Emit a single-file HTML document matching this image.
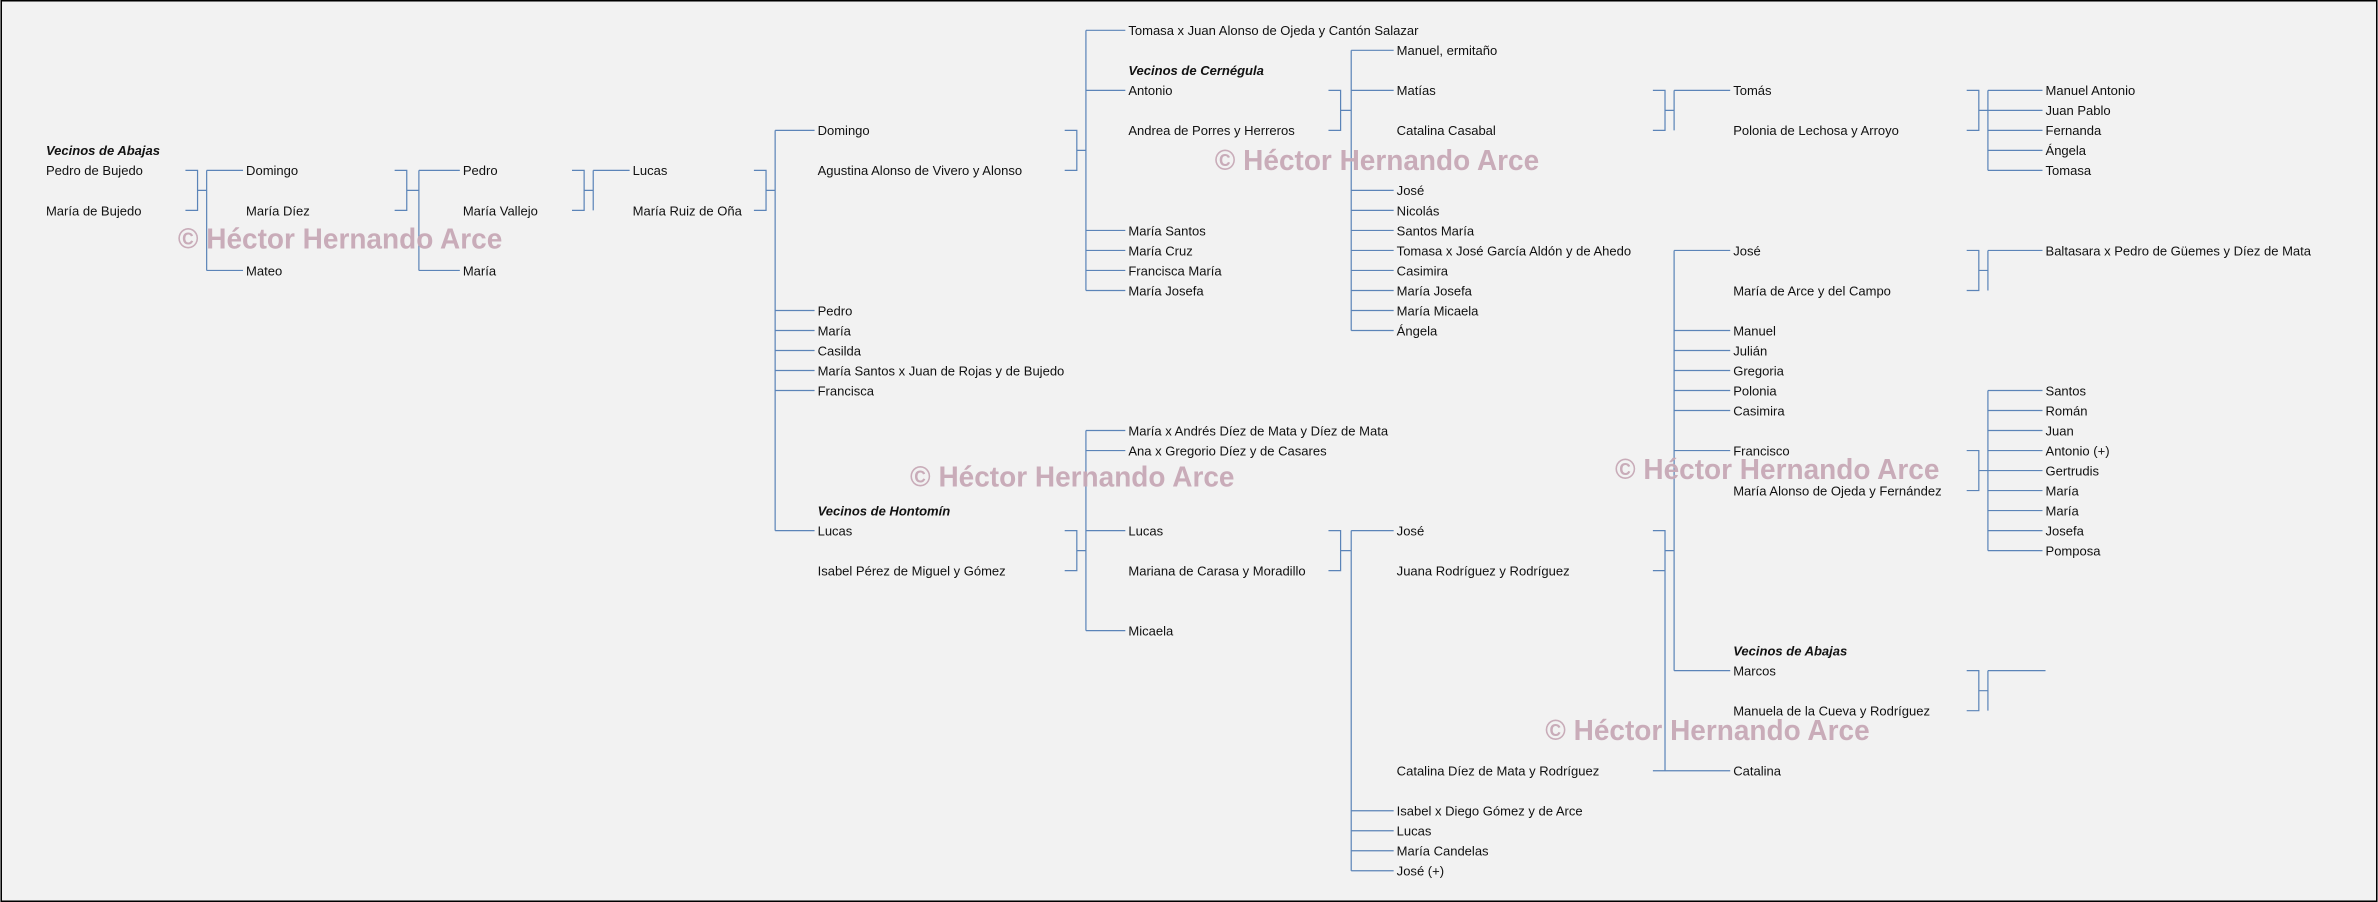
<!DOCTYPE html>
<html><head><meta charset="utf-8"><style>
html,body{margin:0;padding:0;background:#f2f2f2;}
svg{display:block;}
text{font-family:"Liberation Sans",sans-serif;font-size:8.6px;fill:#111;}
.h{font-weight:bold;font-style:italic;}
.w{font-weight:bold;font-size:19px;fill:#c7a9b6;opacity:0.95;}
</style></head><body>
<svg width="2378" height="902" viewBox="0 0 1568 595" xmlns="http://www.w3.org/2000/svg">
<rect x="0.5" y="0.5" width="1567" height="594" fill="#f2f2f2" stroke="#000" stroke-width="1"/>
<path fill="none" stroke="#5b84b8" stroke-width="0.8" d="
M122 112.4H130V138.8H122M130 125.6H136M136 112.4V178.4M136 112.4H160M136 178.4H160
M260 112.4H268V138.8H260M268 125.6H276M276 112.4V178.4M276 112.4H303M276 178.4H303
M377 112.4H385V138.8H377M385 125.6H391M391 112.4V138.8M391 112.4H415
M497 112.4H505V138.8H497M505 125.6H511M511 86V350M511 86H537M511 204.8H537M511 218H537M511 231.2H537M511 244.4H537M511 257.6H537M511 350H537
M702 86H710V112.4H702M710 99.2H716M716 20V191.6M716 20H742M716 59.6H742M716 152H742M716 165.2H742M716 178.4H742M716 191.6H742
M876 59.6H884V86H876M884 72.8H891M891 33.2V218M891 33.2H919M891 59.6H919M891 125.6H919M891 138.8H919M891 152H919M891 165.2H919M891 178.4H919M891 191.6H919M891 204.8H919M891 218H919
M1090 59.6H1098V86H1090M1098 72.8H1104M1104 59.6V86M1104 59.6H1141
M1297 59.6H1305V86H1297M1305 72.8H1311M1311 59.6V112.4M1311 59.6H1347M1311 72.8H1347M1311 86H1347M1311 99.2H1347M1311 112.4H1347
M1297 165.2H1305V191.6H1297M1305 178.4H1311M1311 165.2V191.6M1311 165.2H1347
M1297 297.2H1305V323.6H1297M1305 310.4H1311M1311 257.6V363.2M1311 257.6H1347M1311 270.8H1347M1311 284H1347M1311 297.2H1347M1311 310.4H1347M1311 323.6H1347M1311 336.8H1347M1311 350H1347M1311 363.2H1347
M1297 442.4H1305V468.8H1297M1305 455.6H1311M1311 442.4V468.8M1311 442.4H1349
M702 350H710V376.4H702M710 363.2H716M716 284V416M716 284H742M716 297.2H742M716 350H742M716 416H742
M876 350H884V376.4H876M884 363.2H891M891 350V574.4M891 350H919M891 534.8H919M891 548H919M891 561.2H919M891 574.4H919
M1090 350H1098V376.4H1090M1098 350V508.4M1090 508.4H1141M1098 363.2H1104M1104 165.2V442.4M1104 165.2H1141M1104 218H1141M1104 231.2H1141M1104 244.4H1141M1104 257.6H1141M1104 270.8H1141M1104 297.2H1141M1104 442.4H1141
"/>
<g>
<text class="h" x="30" y="102.4">Vecinos de Abajas</text>
<text x="30" y="115.6">Pedro de Bujedo</text>
<text x="30" y="142">María de Bujedo</text>
<text x="162" y="115.6">Domingo</text>
<text x="162" y="142">María Díez</text>
<text x="162" y="181.6">Mateo</text>
<text x="305" y="115.6">Pedro</text>
<text x="305" y="142">María Vallejo</text>
<text x="305" y="181.6">María</text>
<text x="417" y="115.6">Lucas</text>
<text x="417" y="142">María Ruiz de Oña</text>
<text x="539" y="89.2">Domingo</text>
<text x="539" y="115.6">Agustina Alonso de Vivero y Alonso</text>
<text x="539" y="208">Pedro</text>
<text x="539" y="221.2">María</text>
<text x="539" y="234.4">Casilda</text>
<text x="539" y="247.6">María Santos x Juan de Rojas y de Bujedo</text>
<text x="539" y="260.8">Francisca</text>
<text class="h" x="539" y="340">Vecinos de Hontomín</text>
<text x="539" y="353.2">Lucas</text>
<text x="539" y="379.6">Isabel Pérez de Miguel y Gómez</text>
<text x="744" y="23.2">Tomasa x Juan Alonso de Ojeda y Cantón Salazar</text>
<text class="h" x="744" y="49.6">Vecinos de Cernégula</text>
<text x="744" y="62.8">Antonio</text>
<text x="744" y="89.2">Andrea de Porres y Herreros</text>
<text x="744" y="155.2">María Santos</text>
<text x="744" y="168.4">María Cruz</text>
<text x="744" y="181.6">Francisca María</text>
<text x="744" y="194.8">María Josefa</text>
<text x="744" y="287.2">María x Andrés Díez de Mata y Díez de Mata</text>
<text x="744" y="300.4">Ana x Gregorio Díez y de Casares</text>
<text x="744" y="353.2">Lucas</text>
<text x="744" y="379.6">Mariana de Carasa y Moradillo</text>
<text x="744" y="419.2">Micaela</text>
<text x="921" y="36.4">Manuel, ermitaño</text>
<text x="921" y="62.8">Matías</text>
<text x="921" y="89.2">Catalina Casabal</text>
<text x="921" y="128.8">José</text>
<text x="921" y="142">Nicolás</text>
<text x="921" y="155.2">Santos María</text>
<text x="921" y="168.4">Tomasa x José García Aldón y de Ahedo</text>
<text x="921" y="181.6">Casimira</text>
<text x="921" y="194.8">María Josefa</text>
<text x="921" y="208">María Micaela</text>
<text x="921" y="221.2">Ángela</text>
<text x="921" y="353.2">José</text>
<text x="921" y="379.6">Juana Rodríguez y Rodríguez</text>
<text x="921" y="511.6">Catalina Díez de Mata y Rodríguez</text>
<text x="921" y="538">Isabel x Diego Gómez y de Arce</text>
<text x="921" y="551.2">Lucas</text>
<text x="921" y="564.4">María Candelas</text>
<text x="921" y="577.6">José (+)</text>
<text x="1143" y="62.8">Tomás</text>
<text x="1143" y="89.2">Polonia de Lechosa y Arroyo</text>
<text x="1143" y="168.4">José</text>
<text x="1143" y="194.8">María de Arce y del Campo</text>
<text x="1143" y="221.2">Manuel</text>
<text x="1143" y="234.4">Julián</text>
<text x="1143" y="247.6">Gregoria</text>
<text x="1143" y="260.8">Polonia</text>
<text x="1143" y="274">Casimira</text>
<text x="1143" y="300.4">Francisco</text>
<text x="1143" y="326.8">María Alonso de Ojeda y Fernández</text>
<text class="h" x="1143" y="432.4">Vecinos de Abajas</text>
<text x="1143" y="445.6">Marcos</text>
<text x="1143" y="472">Manuela de la Cueva y Rodríguez</text>
<text x="1143" y="511.6">Catalina</text>
<text x="1349" y="62.8">Manuel Antonio</text>
<text x="1349" y="76">Juan Pablo</text>
<text x="1349" y="89.2">Fernanda</text>
<text x="1349" y="102.4">Ángela</text>
<text x="1349" y="115.6">Tomasa</text>
<text x="1349" y="168.4">Baltasara x Pedro de Güemes y Díez de Mata</text>
<text x="1349" y="260.8">Santos</text>
<text x="1349" y="274">Román</text>
<text x="1349" y="287.2">Juan</text>
<text x="1349" y="300.4">Antonio (+)</text>
<text x="1349" y="313.6">Gertrudis</text>
<text x="1349" y="326.8">María</text>
<text x="1349" y="340">María</text>
<text x="1349" y="353.2">Josefa</text>
<text x="1349" y="366.4">Pomposa</text>
</g>
<g>
<text class="w" x="117" y="164" textLength="214" lengthAdjust="spacingAndGlyphs">© Héctor Hernando Arce</text>
<text class="w" x="801" y="112" textLength="214" lengthAdjust="spacingAndGlyphs">© Héctor Hernando Arce</text>
<text class="w" x="600" y="321" textLength="214" lengthAdjust="spacingAndGlyphs">© Héctor Hernando Arce</text>
<text class="w" x="1065" y="316" textLength="214" lengthAdjust="spacingAndGlyphs">© Héctor Hernando Arce</text>
<text class="w" x="1019" y="488" textLength="214" lengthAdjust="spacingAndGlyphs">© Héctor Hernando Arce</text>
</g>
</svg>
</body></html>
